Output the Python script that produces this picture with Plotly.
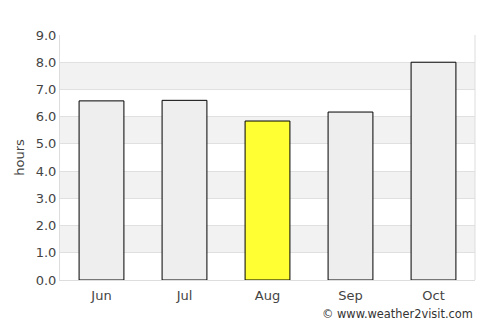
import plotly.graph_objects as go

months = ["Jun", "Jul", "Aug", "Sep", "Oct"]
hours = [6.58, 6.6, 5.84, 6.17, 8.0]
colors = ["#eeeeee", "#eeeeee", "#ffff33", "#eeeeee", "#eeeeee"]
y_ticks = [0, 1, 2, 3, 4, 5, 6, 7, 8, 9]

fig = go.Figure()
fig.add_trace(go.Bar(
    x=months, y=hours,
    marker=dict(color=colors, line=dict(color="#000000", width=1)),
    width=0.54,
))

shapes = []
for lo in [1, 3, 5, 7]:
    shapes.append(dict(type="rect", xref="paper", yref="y", x0=0, x1=1, y0=lo, y1=lo + 1,
                       fillcolor="#f2f2f2", line=dict(width=0), layer="below"))
shapes.append(dict(type="line", xref="paper", yref="paper", x0=1, x1=1, y0=0, y1=1,
                   line=dict(color="#dddddd", width=1), layer="below"))

fig.update_layout(
    width=500, height=325,
    margin=dict(l=60, r=25, t=35, b=45),
    paper_bgcolor="#ffffff", plot_bgcolor="#ffffff",
    font=dict(family="DejaVu Sans", size=13, color="#444444"),
    showlegend=False,
    shapes=shapes,
    xaxis=dict(showgrid=False, ticks="", showline=True, linecolor="#dddddd", linewidth=1,
               ticklabelstandoff=3,
               tickfont=dict(size=13, color="#444444")),
    yaxis=dict(range=[0, 9], tickvals=y_ticks, ticktext=[f"{v:.1f}" for v in y_ticks],
               showgrid=True, gridcolor="#e0e0e0", gridwidth=1, zeroline=False,
               showline=True, linecolor="#dddddd", linewidth=1,
               title=dict(text="hours", font=dict(size=13, color="#444444"), standoff=8),
               tickfont=dict(size=13, color="#444444")),
    annotations=[dict(text="© www.weather2visit.com", xref="paper", yref="paper",
                      x=1.0, y=0, xanchor="right", yanchor="top", yshift=-25, xshift=0,
                      showarrow=False, font=dict(size=11.4, color="#333333"))],
)

fig.write_html("out.html")
